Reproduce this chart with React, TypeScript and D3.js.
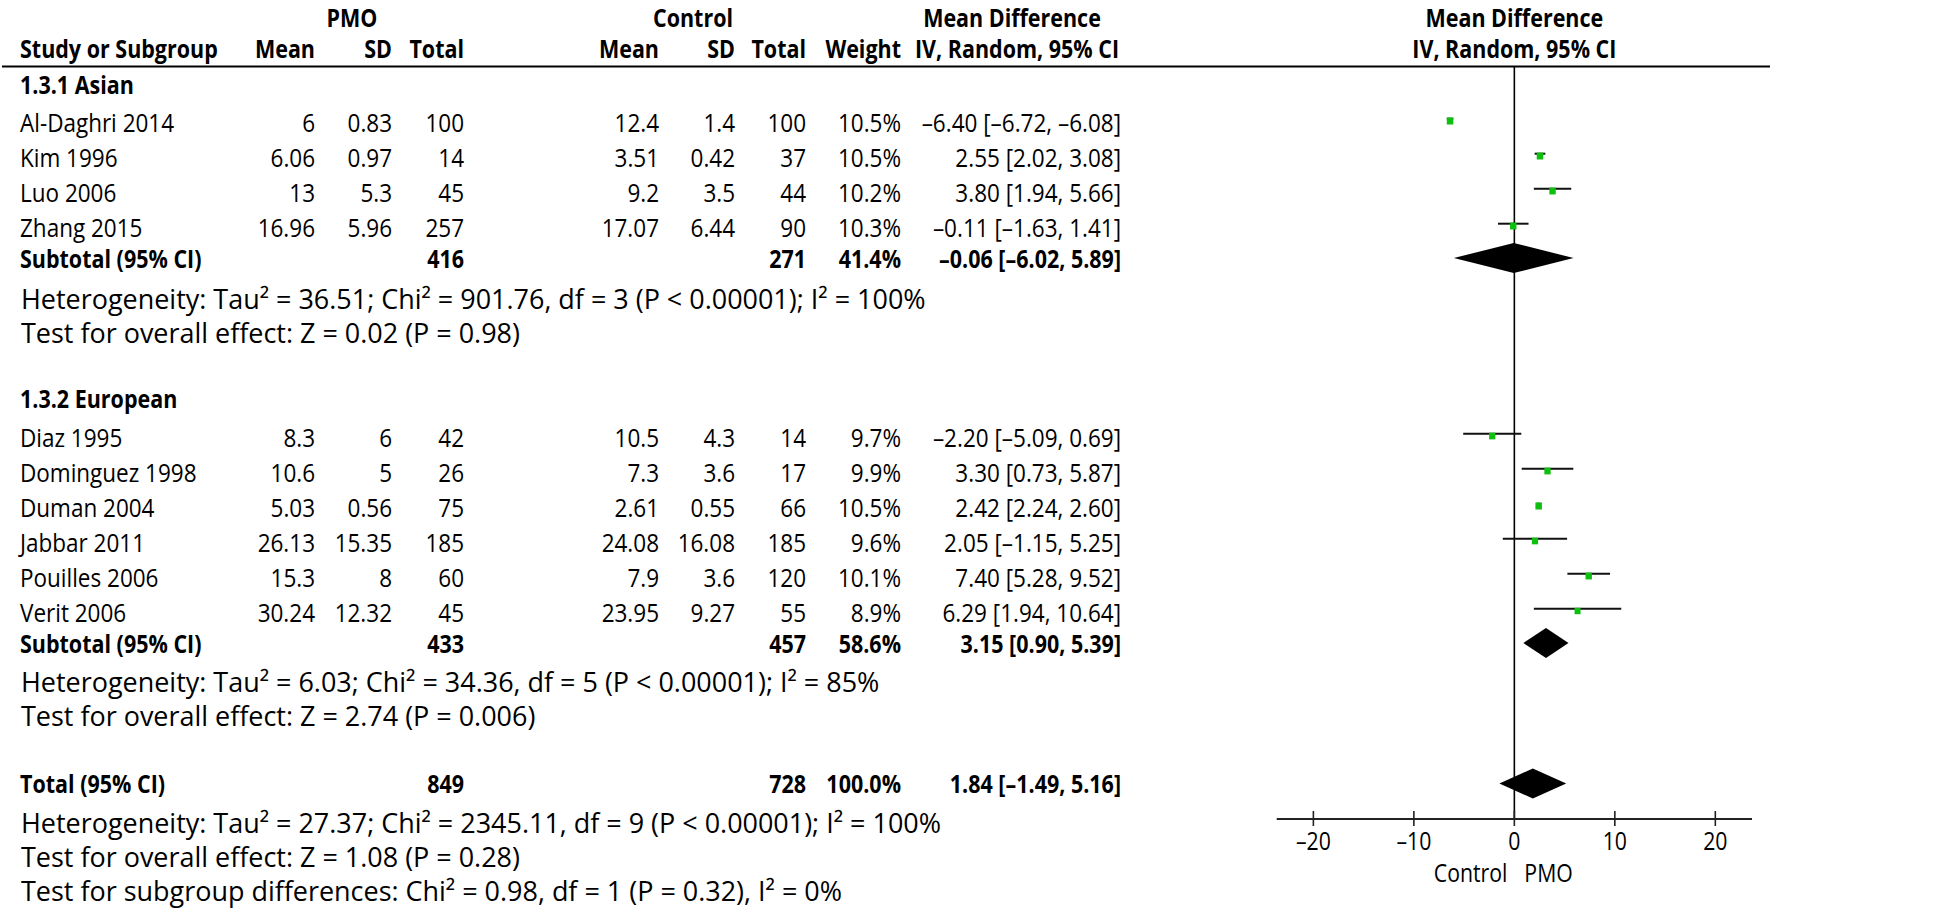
import React from "react";
import * as d3 from "d3";

// ---------- data ----------
const groupNames = ["1.3.1 Asian", "1.3.2 European"];
const studies = ["Al-Daghri 2014", "Kim 1996", "Luo 2006", "Zhang 2015", "Diaz 1995", "Dominguez 1998", "Duman 2004", "Jabbar 2011", "Pouilles 2006", "Verit 2006"];
const pmoMean = [6, 6.06, 13, 16.96, 8.3, 10.6, 5.03, 26.13, 15.3, 30.24];
const pmoSD = [0.83, 0.97, 5.3, 5.96, 6, 5, 0.56, 15.35, 8, 12.32];
const pmoN = [100, 14, 45, 257, 42, 26, 75, 185, 60, 45];
const ctlMean = [12.4, 3.51, 9.2, 17.07, 10.5, 7.3, 2.61, 24.08, 7.9, 23.95];
const ctlSD = [1.4, 0.42, 3.5, 6.44, 4.3, 3.6, 0.55, 16.08, 3.6, 9.27];
const ctlN = [100, 37, 44, 90, 14, 17, 66, 185, 120, 55];
const weights = [10.5, 10.5, 10.2, 10.3, 9.7, 9.9, 10.5, 9.6, 10.1, 8.9];
const md = [-6.4, 2.55, 3.8, -0.11, -2.2, 3.3, 2.42, 2.05, 7.4, 6.29];
const ciLo = [-6.72, 2.02, 1.94, -1.63, -5.09, 0.73, 2.24, -1.15, 5.28, 1.94];
const ciHi = [-6.08, 3.08, 5.66, 1.41, 0.69, 5.87, 2.6, 5.25, 9.52, 10.64];

const subPmoN = [416, 433];
const subCtlN = [271, 457];
const subWeight = [41.4, 58.6];
const subMd = [-0.06, 3.15];
const subLo = [-6.02, 0.9];
const subHi = [5.89, 5.39];
const subHet = [
  "Heterogeneity: Tau² = 36.51; Chi² = 901.76, df = 3 (P < 0.00001); I² = 100%",
  "Heterogeneity: Tau² = 6.03; Chi² = 34.36, df = 5 (P < 0.00001); I² = 85%",
];
const subTest = ["Test for overall effect: Z = 0.02 (P = 0.98)", "Test for overall effect: Z = 2.74 (P = 0.006)"];

const totPmoN = 849;
const totCtlN = 728;
const totWeight = 100.0;
const totMd = 1.84;
const totLo = -1.49;
const totHi = 5.16;
const totalNotes = [
  "Heterogeneity: Tau² = 27.37; Chi² = 2345.11, df = 9 (P < 0.00001); I² = 100%",
  "Test for overall effect: Z = 1.08 (P = 0.28)",
  "Test for subgroup differences: Chi² = 0.98, df = 1 (P = 0.32), I² = 0%",
];
const axisTicks = [-20, -10, 0, 10, 20];
const axisDomain = [-23.65, 23.65];

// ---------- layout ----------
const W = 1946;
const H = 910;
const FONT = "'Open Sans', 'Noto Sans', sans-serif";
const colStudy = 20;
const colPmoMean = 315;
const colPmoSD = 392;
const colPmoN = 464;
const colCtlMean = 659;
const colCtlSD = 735;
const colCtlN = 806;
const colWeight = 901;
const colCI = 1121;

const groupHeaderY = [94, 408];
const studyY = [132, 167, 202, 237, 447, 482, 517, 552, 587, 622];
const subY = [268, 653];
const subHetY = [309, 692];
const subTestY = [343, 726];
const totalY = 793;
const totalNoteY = [833, 867, 901];
const axisY = 819;
const headerLineY = 66.5;

const x = d3.scaleLinear().domain(axisDomain).range([1276.7, 1752]);

const dash = (v: number, digits: number) => {
  const s = Math.abs(v).toFixed(digits);
  return v < 0 ? "\u2013" + s : s;
};
const ciText = (m: number, l: number, h: number) => `${dash(m, 2)} [${dash(l, 2)}, ${dash(h, 2)}]`;

// text styles: [fontSize, horizontal scale, weight]
const STY: Record<string, [number, number, number]> = {
  normal: [25, 0.9, 400],
  bold: [25, 0.86, 700],
  note: [27.5, 0.98, 400],
  axis: [25, 0.85, 400],
};

function T(props: any) {
  const { x, y, anchor = "start", kind = "normal", children } = props;
  const [fs, sx, fw] = STY[kind];
  return (
    <text
      transform={`translate(${x},${y}) scale(${sx},1)`}
      textAnchor={anchor}
      fontWeight={fw}
      fontSize={fs}
      fontFamily={FONT}
      fill="#000"
    >
      {children}
    </text>
  );
}

function Diamond({ m, l, h, cy }: { m: number; l: number; h: number; cy: number }) {
  const hh = 15;
  const p = d3.path();
  p.moveTo(x(l), cy);
  p.lineTo(x(m), cy - hh);
  p.lineTo(x(h), cy);
  p.lineTo(x(m), cy + hh);
  p.closePath();
  return <path d={p.toString()} fill="#000" />;
}

export default function App() {
  return (
    <svg width={W} height={H} style={{ position: "absolute", left: 0, top: 0, background: "#fff" }}>
      <rect x={0} y={0} width={W} height={H} fill="#fff" />
      {/* headers */}
      <T x={352} y={27} anchor="middle" kind="bold">PMO</T>
      <T x={693} y={27} anchor="middle" kind="bold">Control</T>
      <T x={1012} y={27} anchor="middle" kind="bold">Mean Difference</T>
      <T x={x(0)} y={27} anchor="middle" kind="bold">Mean Difference</T>
      <T x={colStudy} y={58} kind="bold">Study or Subgroup</T>
      <T x={colPmoMean} y={58} anchor="end" kind="bold">Mean</T>
      <T x={colPmoSD} y={58} anchor="end" kind="bold">SD</T>
      <T x={colPmoN} y={58} anchor="end" kind="bold">Total</T>
      <T x={colCtlMean} y={58} anchor="end" kind="bold">Mean</T>
      <T x={colCtlSD} y={58} anchor="end" kind="bold">SD</T>
      <T x={colCtlN} y={58} anchor="end" kind="bold">Total</T>
      <T x={colWeight} y={58} anchor="end" kind="bold">Weight</T>
      <T x={1017} y={58} anchor="middle" kind="bold">IV, Random, 95% CI</T>
      <T x={x(0)} y={58} anchor="middle" kind="bold">IV, Random, 95% CI</T>
      <line x1={2} x2={1770} y1={headerLineY} y2={headerLineY} stroke="#000" strokeWidth={2} />

      {/* zero line */}
      <line x1={x(0)} x2={x(0)} y1={headerLineY} y2={axisY} stroke="#000" strokeWidth={1.6} />

      {/* group sections */}
      {groupNames.map((g, gi) => (
        <g key={g}>
          <T x={colStudy} y={groupHeaderY[gi]} kind="bold">{g}</T>
          <T x={colStudy} y={subY[gi]} kind="bold">Subtotal (95% CI)</T>
          <T x={colPmoN} y={subY[gi]} anchor="end" kind="bold">{subPmoN[gi]}</T>
          <T x={colCtlN} y={subY[gi]} anchor="end" kind="bold">{subCtlN[gi]}</T>
          <T x={colWeight} y={subY[gi]} anchor="end" kind="bold">{subWeight[gi].toFixed(1)}%</T>
          <T x={colCI} y={subY[gi]} anchor="end" kind="bold">{ciText(subMd[gi], subLo[gi], subHi[gi])}</T>
          <T x={21} y={subHetY[gi]} kind="note">{subHet[gi]}</T>
          <T x={21} y={subTestY[gi]} kind="note">{subTest[gi]}</T>
          <Diamond m={subMd[gi]} l={subLo[gi]} h={subHi[gi]} cy={subY[gi] - 10} />
        </g>
      ))}

      {/* studies */}
      {studies.map((s, i) => {
        const y = studyY[i];
        const sc = Math.sqrt(weights[i] / 10.5);
        const sw = 6.5 * sc;
        const sh = 7 * sc;
        return (
          <g key={s}>
            <T x={colStudy} y={y}>{s}</T>
            <T x={colPmoMean} y={y} anchor="end">{String(pmoMean[i])}</T>
            <T x={colPmoSD} y={y} anchor="end">{String(pmoSD[i])}</T>
            <T x={colPmoN} y={y} anchor="end">{pmoN[i]}</T>
            <T x={colCtlMean} y={y} anchor="end">{String(ctlMean[i])}</T>
            <T x={colCtlSD} y={y} anchor="end">{String(ctlSD[i])}</T>
            <T x={colCtlN} y={y} anchor="end">{ctlN[i]}</T>
            <T x={colWeight} y={y} anchor="end">{weights[i].toFixed(1)}%</T>
            <T x={colCI} y={y} anchor="end">{ciText(md[i], ciLo[i], ciHi[i])}</T>
            <line x1={x(ciLo[i])} x2={x(ciHi[i])} y1={y - 13.3} y2={y - 13.3} stroke="#111" strokeWidth={2} />
            <rect x={x(md[i]) - sw / 2} y={y - 11 - sh / 2} width={sw} height={sh} fill="#0fbf0f" />
          </g>
        );
      })}

      {/* total */}
      <T x={colStudy} y={totalY} kind="bold">Total (95% CI)</T>
      <T x={colPmoN} y={totalY} anchor="end" kind="bold">{totPmoN}</T>
      <T x={colCtlN} y={totalY} anchor="end" kind="bold">{totCtlN}</T>
      <T x={colWeight} y={totalY} anchor="end" kind="bold">{totWeight.toFixed(1)}%</T>
      <T x={colCI} y={totalY} anchor="end" kind="bold">{ciText(totMd, totLo, totHi)}</T>
      <Diamond m={totMd} l={totLo} h={totHi} cy={totalY - 9.5} />
      {totalNotes.map((n, i) => (
        <T key={n} x={21} y={totalNoteY[i]} kind="note">{n}</T>
      ))}

      {/* axis */}
      <line x1={x.range()[0]} x2={x.range()[1]} y1={axisY} y2={axisY} stroke="#222" strokeWidth={2} />
      {axisTicks.map((t) => (
        <g key={t}>
          <line x1={x(t)} x2={x(t)} y1={axisY - 8} y2={axisY + 7} stroke="#222" strokeWidth={1.6} />
          <T x={x(t)} y={850} anchor="middle" kind="axis">{dash(t, 0)}</T>
        </g>
      ))}
      <T x={x(0) - 7} y={882} anchor="end" kind="axis">Control</T>
      <T x={x(0) + 10} y={882} kind="axis">PMO</T>
    </svg>
  );
}
